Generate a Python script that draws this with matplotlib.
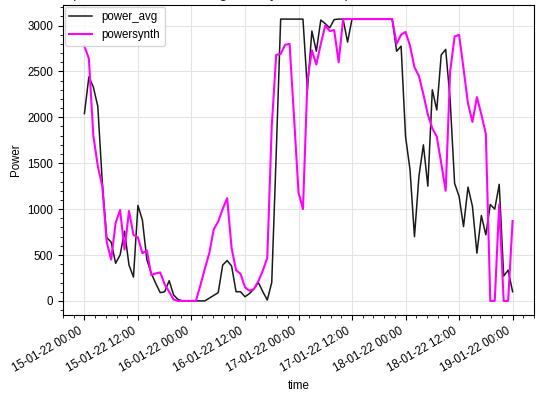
import matplotlib
matplotlib.use("Agg")
import matplotlib.pyplot as plt
import matplotlib.dates as mdates
from matplotlib.ticker import AutoMinorLocator
import pandas as pd

plt.rcParams['font.family'] = ['Liberation Sans', 'DejaVu Sans']
plt.rcParams['font.size'] = 8.3

# hourly data, 15-01-2022 00:00 .. 19-01-2022 00:00
time = pd.date_range('2022-01-15 00:00', periods=97, freq='h')

power_avg = [
    2040, 2440, 2330, 2120, 1300, 690, 640, 410, 500, 760,
    390, 260, 1040, 880, 450, 300, 190, 90, 100, 220,
    65, 15, 0, 0, 0, 0, 0, 0, 30, 60,
    90, 390, 440, 380, 100, 100, 45, 80, 130, 200,
    100, 10, 200, 1600, 3070, 3070, 3070, 3070, 3070, 3070,
    2300, 2940, 2720, 3060, 3020, 2975, 3065, 3070, 3070, 2820,
    3070, 3070, 3070, 3070, 3070, 3070, 3070, 3070, 3070, 3070,
    2720, 2775, 1790, 1430, 700, 1356, 1700, 1250, 2300, 2080,
    2680, 2740, 2190, 1280, 1140, 810, 1240, 1030, 520, 930,
    720, 1050, 1000, 1270, 270, 335, 100,
]

powersynth = [
    2775, 2640, 1800, 1470, 1250, 640, 450, 850, 990, 560,
    980, 720, 690, 520, 550, 280, 300, 310, 180, 100,
    15, 0, 0, 0, 0, 0, 170, 350, 520, 780,
    865, 1000, 1120, 575, 335, 295, 150, 110, 130, 215,
    330, 470, 1900, 2680, 2690, 2790, 2800, 2000, 1180, 1000,
    2400, 2730, 2575, 2800, 3000, 2940, 2950, 2600, 3070, 3070,
    3070, 3070, 3070, 3070, 3070, 3070, 3070, 3070, 3070, 3070,
    2800, 2900, 2930, 2780, 2545, 2450, 2250, 2030, 1880, 1790,
    1500, 1200, 2500, 2880, 2900, 2530, 2150, 1950, 2220, 2030,
    1820, 0, 0, 1050, 0, 0, 870,
]

fig = plt.figure(figsize=(5.38, 3.96), dpi=100)
ax = fig.add_axes([63 / 538, 81 / 396, 471 / 538, 310 / 396])

ax.plot(time, power_avg, color='#1a1a1a', lw=1.1, label='power_avg')
ax.plot(time, powersynth, color='#ff00ff', lw=1.5, label='powersynth')

ax.xaxis.set_major_locator(mdates.HourLocator(byhour=[0, 12]))
ax.xaxis.set_major_formatter(mdates.DateFormatter('%d-%m-%y %H:%M'))
ax.xaxis.set_minor_locator(AutoMinorLocator())
ax.yaxis.set_minor_locator(AutoMinorLocator())
for lab in ax.get_xticklabels():
    lab.set_rotation(30)
    lab.set_ha('right')

ax.grid(True, which='major', color='#e3e3e3', lw=0.8)
ax.set_axisbelow(True)
ax.set_xlabel('time')
ax.set_ylabel('Power')
ax.legend(loc='upper left', borderaxespad=0.15)

# title sits mostly above the visible area, as in the source image
fig.text(0.5, 1.004, 'Power consumption, measured average vs. synthesized power, 15-01-2022 to 19-01-2022',
         ha='center', va='baseline', fontsize=10.5, color='#222222')

fig.savefig('out.png', dpi=100)
